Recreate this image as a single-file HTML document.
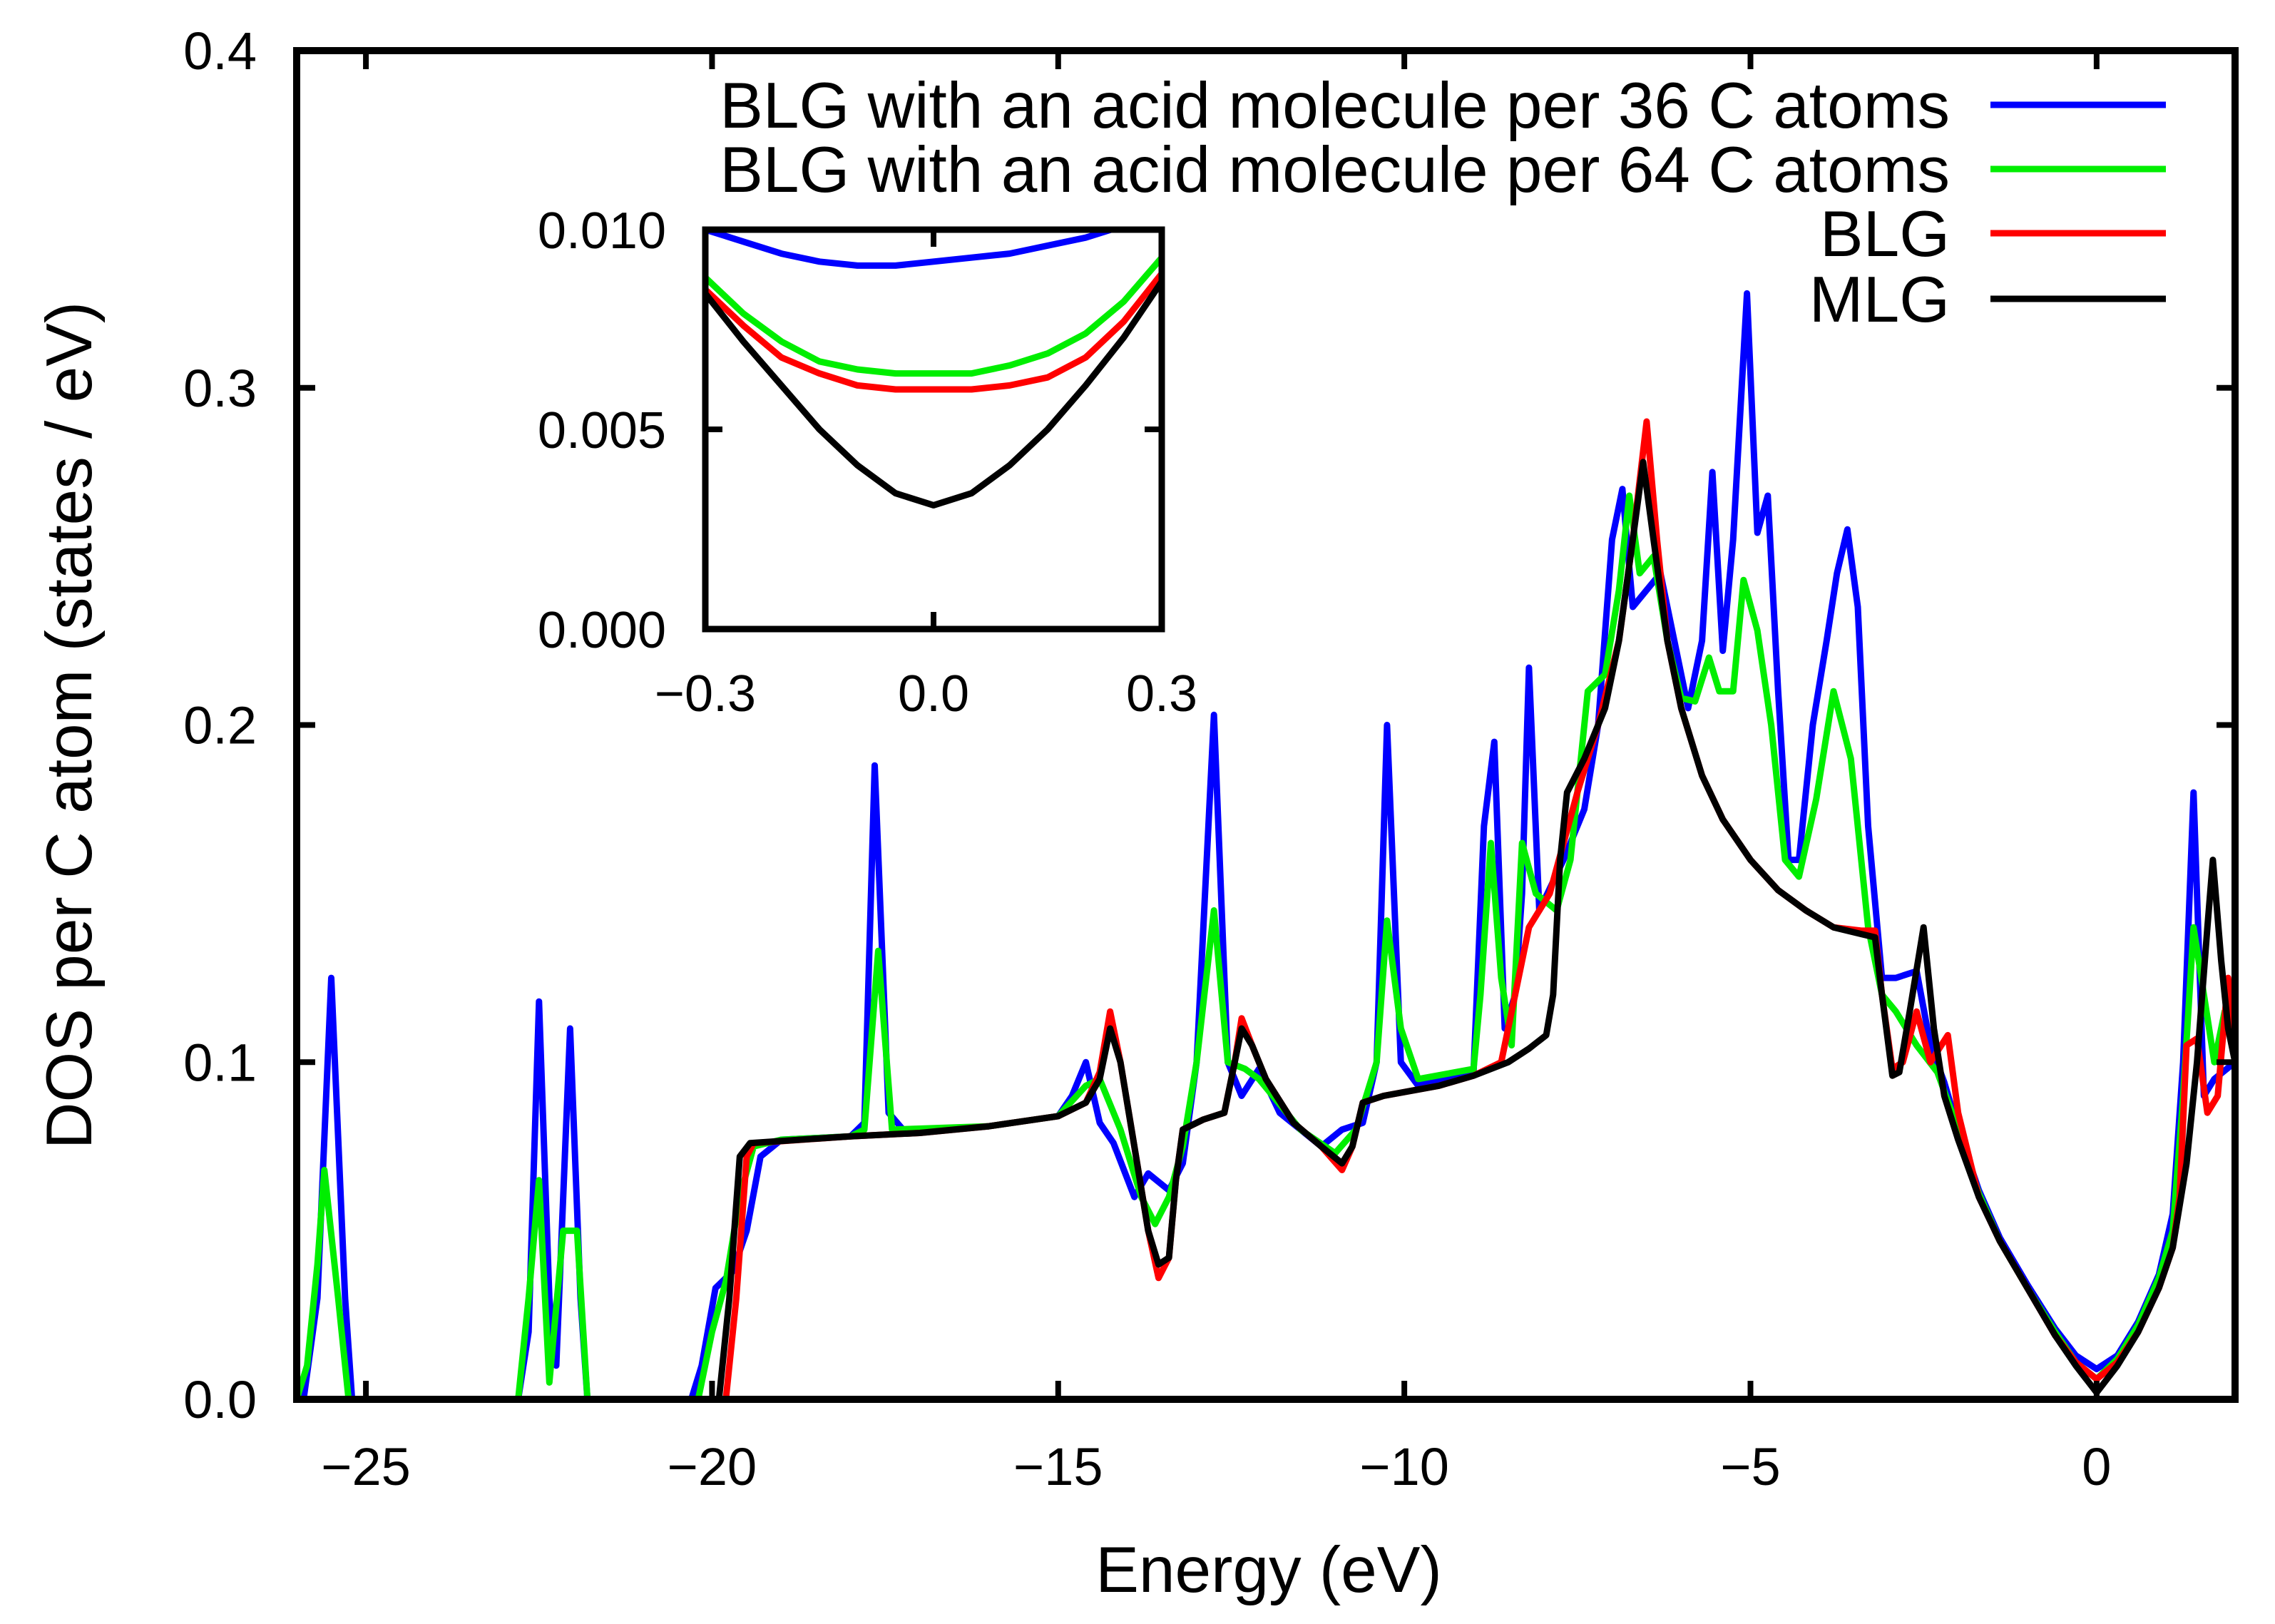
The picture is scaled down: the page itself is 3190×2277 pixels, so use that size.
<!DOCTYPE html>
<html><head><meta charset="utf-8"><style>
html,body{margin:0;padding:0;background:#fff}
svg{display:block}
text{font-family:"Liberation Sans",sans-serif;fill:#000}
</style></head><body>
<svg id="chart" width="3190" height="2277" viewBox="0 0 3190 2277" xmlns="http://www.w3.org/2000/svg">
<defs>
<clipPath id="mainClip"><rect x="416" y="71" width="2718" height="1891"/></clipPath>
<clipPath id="insetClip"><rect x="989" y="322" width="640" height="560"/></clipPath>
</defs>
<rect x="0" y="0" width="3190" height="2277" fill="#fff"/>
<g id="main"></g>
<g id="inset"></g>
<g id="legend"></g>
<text x="1779" y="2232" font-size="91" text-anchor="middle">Energy (eV)</text>
<text transform="translate(128,1017) rotate(-90)" font-size="91" text-anchor="middle">DOS per C atom (states / eV)</text>
</svg>
<script>
// ---------- main chart data ----------
const xTicks = [-25, -20, -15, -10, -5, 0];
const xTickLabels = ["\u221225", "\u221220", "\u221215", "\u221210", "\u22125", "0"];
const yTicks = [0, 0.1, 0.2, 0.3, 0.4];
const yTickLabels = ["0.0", "0.1", "0.2", "0.3", "0.4"];
const seriesNames = ["BLG with an acid molecule per 36 C atoms", "BLG with an acid molecule per 64 C atoms", "BLG", "MLG"];
const seriesColors = ["#0000ff", "#00ee00", "#ff0000", "#000000"];

const acid36 = [[-26,0],[-25.9,0],[-25.7,0.03],[-25.5,0.125],[-25.3,0.03],[-25.2,0],[-22.8,0],[-22.65,0.02],[-22.5,0.118],[-22.35,0.03],[-22.25,0.01],[-22.05,0.11],[-21.9,0.03],[-21.8,0],[-20.3,0],[-20.15,0.01],[-19.95,0.033],[-19.7,0.038],[-19.5,0.05],[-19.3,0.072],[-19.0,0.077],[-18,0.078],[-17.8,0.082],[-17.65,0.188],[-17.45,0.085],[-17.2,0.079],[-16,0.081],[-15,0.084],[-14.8,0.09],[-14.6,0.1],[-14.4,0.082],[-14.2,0.076],[-13.9,0.06],[-13.7,0.067],[-13.4,0.062],[-13.2,0.07],[-13.0,0.1],[-12.75,0.203],[-12.55,0.1],[-12.35,0.09],[-12.1,0.098],[-11.8,0.085],[-11.2,0.075],[-10.9,0.08],[-10.6,0.082],[-10.4,0.1],[-10.25,0.2],[-10.05,0.1],[-9.8,0.093],[-9,0.097],[-8.85,0.17],[-8.7,0.195],[-8.55,0.11],[-8.4,0.12],[-8.3,0.15],[-8.2,0.217],[-8.05,0.145],[-7.7,0.16],[-7.4,0.175],[-7.2,0.2],[-7.0,0.255],[-6.85,0.27],[-6.7,0.235],[-6.5,0.24],[-6.3,0.245],[-6.1,0.225],[-5.9,0.205],[-5.7,0.225],[-5.55,0.275],[-5.4,0.222],[-5.25,0.255],[-5.05,0.328],[-4.9,0.257],[-4.75,0.268],[-4.6,0.21],[-4.45,0.16],[-4.3,0.16],[-4.1,0.2],[-3.9,0.225],[-3.75,0.245],[-3.6,0.258],[-3.45,0.235],[-3.3,0.17],[-3.1,0.125],[-2.9,0.125],[-2.6,0.127],[-2.4,0.105],[-2.2,0.094],[-2.0,0.08],[-1.7,0.062],[-1.4,0.048],[-1.0,0.034],[-0.6,0.021],[-0.3,0.013],[0,0.009],[0.3,0.013],[0.6,0.023],[0.9,0.037],[1.1,0.055],[1.25,0.1],[1.4,0.18],[1.55,0.09],[1.7,0.095],[2.0,0.1]];

const acid64 = [[-26,0],[-25.85,0.01],[-25.7,0.04],[-25.6,0.068],[-25.4,0.03],[-25.25,0],[-22.8,0],[-22.65,0.03],[-22.5,0.065],[-22.35,0.005],[-22.15,0.05],[-21.95,0.05],[-21.8,0],[-20.2,0],[-20.0,0.02],[-19.8,0.035],[-19.6,0.06],[-19.4,0.075],[-19,0.077],[-18,0.078],[-17.8,0.08],[-17.6,0.133],[-17.4,0.08],[-16,0.081],[-15,0.084],[-14.6,0.093],[-14.4,0.095],[-14.1,0.08],[-13.8,0.06],[-13.6,0.052],[-13.4,0.06],[-13.2,0.075],[-13.0,0.1],[-12.75,0.145],[-12.55,0.1],[-12.3,0.098],[-12.1,0.095],[-11.5,0.08],[-11,0.073],[-10.7,0.08],[-10.4,0.1],[-10.25,0.142],[-10.05,0.11],[-9.8,0.095],[-9,0.098],[-8.9,0.12],[-8.75,0.165],[-8.6,0.125],[-8.45,0.105],[-8.3,0.165],[-8.1,0.15],[-7.8,0.145],[-7.6,0.16],[-7.35,0.21],[-7.1,0.215],[-6.9,0.24],[-6.75,0.268],[-6.6,0.245],[-6.4,0.25],[-6.2,0.225],[-6.0,0.208],[-5.8,0.207],[-5.6,0.22],[-5.45,0.21],[-5.25,0.21],[-5.1,0.243],[-4.9,0.228],[-4.7,0.2],[-4.5,0.16],[-4.3,0.155],[-4.05,0.178],[-3.8,0.21],[-3.55,0.19],[-3.3,0.14],[-3.1,0.12],[-2.9,0.115],[-2.6,0.105],[-2.3,0.097],[-2.0,0.08],[-1.7,0.061],[-1.4,0.047],[-1.0,0.033],[-0.6,0.02],[-0.3,0.011],[0,0.006],[0.3,0.012],[0.6,0.022],[0.9,0.036],[1.1,0.05],[1.25,0.09],[1.4,0.14],[1.55,0.12],[1.7,0.1],[1.85,0.115],[2.0,0.12]];

const blg = [[-26,0],[-19.8,0],[-19.65,0.03],[-19.5,0.072],[-19.4,0.076],[-18,0.078],[-17,0.079],[-16,0.081],[-15,0.084],[-14.6,0.088],[-14.4,0.097],[-14.25,0.115],[-14.1,0.1],[-13.9,0.075],[-13.7,0.05],[-13.55,0.036],[-13.4,0.042],[-13.3,0.065],[-13.2,0.08],[-12.9,0.083],[-12.6,0.085],[-12.45,0.1],[-12.35,0.113],[-12.2,0.105],[-12.0,0.095],[-11.6,0.082],[-11.2,0.075],[-10.9,0.068],[-10.75,0.075],[-10.6,0.088],[-10.3,0.09],[-9.5,0.093],[-9,0.096],[-8.6,0.1],[-8.4,0.12],[-8.2,0.14],[-7.9,0.15],[-7.7,0.165],[-7.5,0.18],[-7.2,0.2],[-6.9,0.225],[-6.7,0.255],[-6.5,0.29],[-6.35,0.255],[-6.2,0.225],[-6.0,0.205],[-5.7,0.185],[-5.4,0.172],[-5.0,0.16],[-4.6,0.151],[-4.2,0.145],[-3.8,0.14],[-3.4,0.139],[-3.2,0.139],[-3.1,0.12],[-2.95,0.098],[-2.8,0.1],[-2.6,0.115],[-2.4,0.1],[-2.15,0.108],[-2.0,0.085],[-1.7,0.06],[-1.4,0.047],[-1.0,0.033],[-0.6,0.019],[-0.3,0.011],[0,0.006],[0.3,0.011],[0.6,0.02],[0.9,0.033],[1.1,0.045],[1.2,0.06],[1.3,0.105],[1.45,0.107],[1.6,0.085],[1.75,0.09],[1.9,0.125],[2.0,0.1]];

const mlg = [[-26,0],[-19.9,0],[-19.75,0.03],[-19.6,0.072],[-19.45,0.076],[-18,0.078],[-17,0.079],[-16,0.081],[-15,0.084],[-14.6,0.088],[-14.4,0.095],[-14.25,0.11],[-14.1,0.1],[-13.9,0.075],[-13.7,0.05],[-13.55,0.04],[-13.4,0.042],[-13.3,0.065],[-13.2,0.08],[-12.9,0.083],[-12.6,0.085],[-12.45,0.1],[-12.35,0.11],[-12.2,0.105],[-12.0,0.095],[-11.6,0.082],[-11.2,0.075],[-10.9,0.07],[-10.75,0.075],[-10.6,0.088],[-10.3,0.09],[-9.5,0.093],[-9,0.096],[-8.5,0.1],[-8.2,0.104],[-7.95,0.108],[-7.85,0.12],[-7.75,0.16],[-7.65,0.18],[-7.4,0.19],[-7.1,0.205],[-6.9,0.225],[-6.7,0.255],[-6.55,0.278],[-6.4,0.255],[-6.2,0.225],[-6.0,0.205],[-5.7,0.185],[-5.4,0.172],[-5.0,0.16],[-4.6,0.151],[-4.2,0.145],[-3.8,0.14],[-3.4,0.138],[-3.2,0.137],[-3.1,0.12],[-2.95,0.096],[-2.85,0.097],[-2.7,0.115],[-2.5,0.14],[-2.35,0.11],[-2.2,0.09],[-2.0,0.077],[-1.7,0.06],[-1.4,0.047],[-1.0,0.033],[-0.6,0.019],[-0.3,0.01],[0,0.002],[0.3,0.01],[0.6,0.02],[0.9,0.033],[1.1,0.045],[1.3,0.07],[1.45,0.1],[1.6,0.14],[1.68,0.16],[1.8,0.13],[1.9,0.11],[2.0,0.1]];

// ---------- inset data ----------
const insetE = [-0.3,-0.25,-0.2,-0.15,-0.1,-0.05,0,0.05,0.1,0.15,0.2,0.25,0.3];
const inset36 = [0.0100,0.0097,0.0094,0.0092,0.0091,0.0091,0.0092,0.0093,0.0094,0.0096,0.0098,0.0101,0.0104];
const inset64 = [0.0088,0.0079,0.0072,0.0067,0.0065,0.0064,0.0064,0.0064,0.0066,0.0069,0.0074,0.0082,0.0093];
const insetBLG = [0.0085,0.0076,0.0068,0.0064,0.0061,0.0060,0.0060,0.0060,0.0061,0.0063,0.0068,0.0077,0.0089];
const insetMLG = [0.0084,0.0072,0.0061,0.0050,0.0041,0.0034,0.0031,0.0034,0.0041,0.0050,0.0061,0.0073,0.0087];
const insetXTicks = [-0.3, 0, 0.3];
const insetXLabels = ["\u22120.3", "0.0", "0.3"];
const insetYTicks = [0, 0.005, 0.01];
const insetYLabels = ["0.000", "0.005", "0.010"];

const NS = "http://www.w3.org/2000/svg";
function mk(tag, attrs, parent){const e=document.createElementNS(NS,tag);for(const k in attrs)e.setAttribute(k,attrs[k]);parent.appendChild(e);return e;}

// main axes
const L=416,R=3134,T=71,B=1962;
const xMin=-26,xMax=2,yMin=0,yMax=0.4;
const xs=v=>L+(v-xMin)/(xMax-xMin)*(R-L);
const ys=v=>B-(v-yMin)/(yMax-yMin)*(B-T);
const main=document.getElementById('main');

const seriesData=[acid36,acid64,blg,mlg];
const seriesKeys=['series-acid-36','series-acid-64','series-blg','series-mlg'];
const lineG=mk('g',{'clip-path':'url(#mainClip)'},main);
seriesData.forEach((d,i)=>{
  const p=mk('polyline',{points:d.map(q=>xs(q[0]).toFixed(1)+','+ys(q[1]).toFixed(1)).join(' '),fill:'none',stroke:seriesColors[i],'stroke-width':9,'stroke-linejoin':'round'},lineG);
  
  
});

xTicks.forEach((t,i)=>{
  const x=xs(t);
  mk('line',{x1:x,y1:B,x2:x,y2:B-26,stroke:'#000','stroke-width':8},main);
  mk('line',{x1:x,y1:T,x2:x,y2:T+26,stroke:'#000','stroke-width':8},main);
  const tx=mk('text',{x:x,y:B+120,'font-size':74,'text-anchor':'middle'},main);
  tx.textContent=xTickLabels[i];
  
  
});
yTicks.forEach((t,i)=>{
  const y=ys(t);
  mk('line',{x1:L,y1:y,x2:L+26,y2:y,stroke:'#000','stroke-width':8},main);
  mk('line',{x1:R,y1:y,x2:R-26,y2:y,stroke:'#000','stroke-width':8},main);
  const tx=mk('text',{x:L-56,y:y+26,'font-size':74,'text-anchor':'end'},main);
  tx.textContent=yTickLabels[i];
  
  
});
const frame=mk('rect',{x:L,y:T,width:R-L,height:B-T,fill:'none',stroke:'#000','stroke-width':10},main);



// inset
const iL=989,iR=1629,iT=322,iB=882;
const ixs=v=>iL+(v+0.3)/0.6*(iR-iL);
const iys=v=>iB-v/0.01*(iB-iT);
const inset=document.getElementById('inset');
mk('rect',{x:iL,y:iT,width:iR-iL,height:iB-iT,fill:'#fff'},inset);
const iG=mk('g',{'clip-path':'url(#insetClip)'},inset);
[inset36,inset64,insetBLG,insetMLG].forEach((d,i)=>{
  const p=mk('polyline',{points:d.map((v,j)=>ixs(insetE[j]).toFixed(1)+','+iys(v).toFixed(1)).join(' '),fill:'none',stroke:seriesColors[i],'stroke-width':9,'stroke-linejoin':'round'},iG);
  
  
});
insetXTicks.forEach((t,i)=>{
  const x=ixs(t);
  if(i===1){
    mk('line',{x1:x,y1:iB,x2:x,y2:iB-24,stroke:'#000','stroke-width':8},inset);
    mk('line',{x1:x,y1:iT,x2:x,y2:iT+24,stroke:'#000','stroke-width':8},inset);
  }
  const tx=mk('text',{x:x,y:iB+115,'font-size':72,'text-anchor':'middle'},inset);
  tx.textContent=insetXLabels[i];
  
  
});
insetYTicks.forEach((t,i)=>{
  const y=iys(t);
  if(i===1){
    mk('line',{x1:iL,y1:y,x2:iL+24,y2:y,stroke:'#000','stroke-width':8},inset);
    mk('line',{x1:iR,y1:y,x2:iR-24,y2:y,stroke:'#000','stroke-width':8},inset);
  }
  const tx=mk('text',{x:iL-55,y:y+26,'font-size':72,'text-anchor':'end'},inset);
  tx.textContent=insetYLabels[i];
  
  
});
const iframe=mk('rect',{x:iL,y:iT,width:iR-iL,height:iB-iT,fill:'none',stroke:'#000','stroke-width':9},inset);



// legend
const legend=document.getElementById('legend');
const legY=[147,237,327,419];
seriesNames.forEach((n,i)=>{
  const tx=mk('text',{x:2734,y:legY[i]+32,'font-size':91,'text-anchor':'end'},legend);
  tx.textContent=n;
  
  
  const ln=mk('line',{x1:2791,y1:legY[i],x2:3037,y2:legY[i],stroke:seriesColors[i],'stroke-width':9},legend);
  
  
});
</script>
</body></html>
